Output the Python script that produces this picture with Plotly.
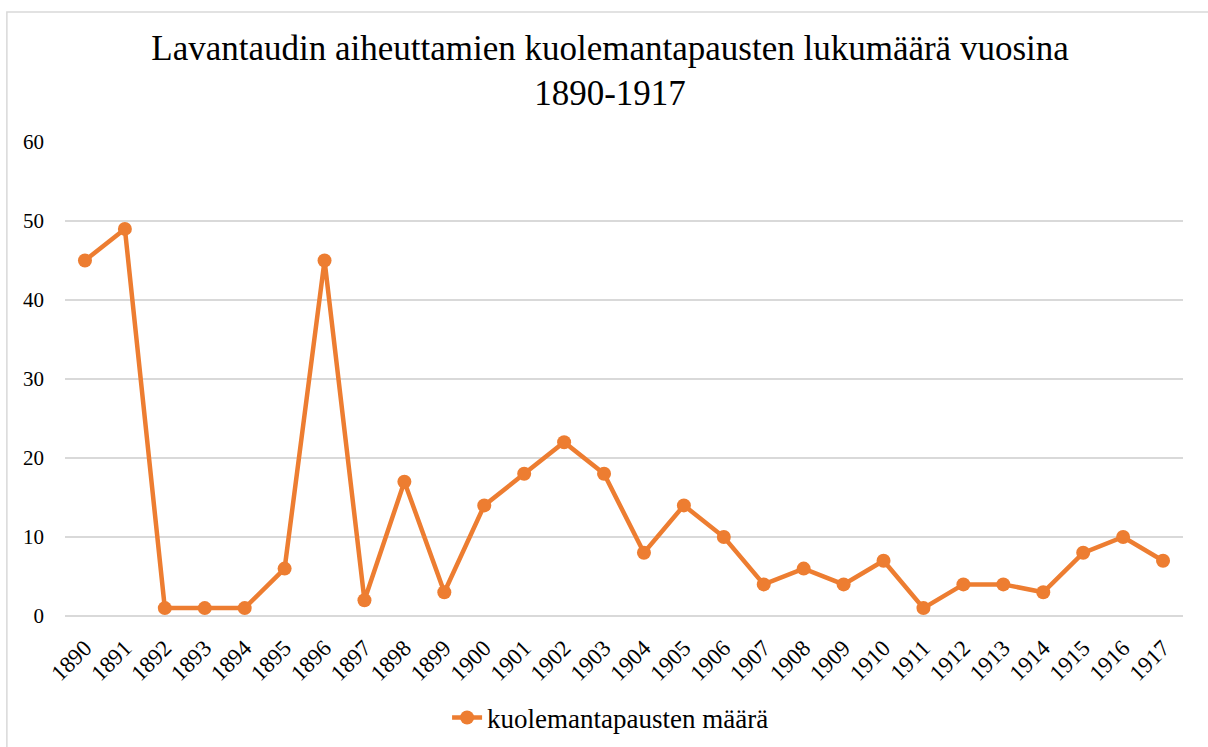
import plotly.graph_objects as go

years = [str(y) for y in range(1890, 1918)]
deaths = [45, 49, 1, 1, 1, 6, 45, 2, 17, 3, 14, 18, 22, 18, 8, 14, 10, 4, 6, 4, 7, 1, 4, 4, 3, 8, 10, 7]
y_ticks = [0, 10, 20, 30, 40, 50, 60]

ORANGE = "#ED7D31"
GRID = "#d9d9d9"
FONT = "Liberation Serif"

fig = go.Figure(go.Scatter(
    x=years,
    y=deaths,
    mode="lines+markers",
    name="kuolemantapausten määrä",
    line={"color": ORANGE, "width": 4.5},
    marker={"color": ORANGE, "size": 14},
))

fig.update_layout(
    width=1208,
    height=747,
    font={"family": FONT, "size": 21, "color": "#000000"},
    plot_bgcolor="white",
    paper_bgcolor="white",
    margin={"l": 65, "r": 25, "t": 142, "b": 131, "autoexpand": False},
    title={
        "text": "Lavantaudin aiheuttamien kuolemantapausten lukumäärä vuosina<br>1890-1917",
        "x": 0.505,
        "xanchor": "center",
        "y": 0.92,
        "yanchor": "top",
        "font": {"family": FONT, "size": 35, "color": "#000000"},
    },
    xaxis={
        "type": "category",
        "range": [-0.5, len(years) - 0.5],
        "tickangle": -45,
        "showgrid": False,
        "showline": False,
        "ticks": "",
        "automargin": False,
        "ticklabelstandoff": 13,
        "tickfont": {"size": 23},
    },
    yaxis={
        "range": [0, 60],
        "tickvals": y_ticks,
        "gridcolor": GRID,
        "gridwidth": 1.5,
        "zerolinecolor": GRID,
        "zerolinewidth": 1.5,
        "showline": False,
        "ticks": "",
        "automargin": False,
        "ticklabelstandoff": 20,
        "tickfont": {"size": 21},
    },
    showlegend=True,
    legend={
        "orientation": "h",
        "x": 0.488,
        "xanchor": "center",
        "y": -0.215,
        "yanchor": "middle",
        "font": {"size": 27},
    },
    shapes=[{
        "type": "rect",
        "xref": "paper",
        "yref": "paper",
        "x0": -0.052,
        "x1": 1.03,
        "y0": -0.35,
        "y1": 1.274,
        "line": {"color": GRID, "width": 1.5},
        "fillcolor": "rgba(0,0,0,0)",
        "layer": "below",
    }],
)

# page body has an 8px default margin; drop it so the chart sits at 0,0
fig.write_html(
    "out.html",
    config={"displayModeBar": False},
    post_script="document.body.style.margin='0';",
)
